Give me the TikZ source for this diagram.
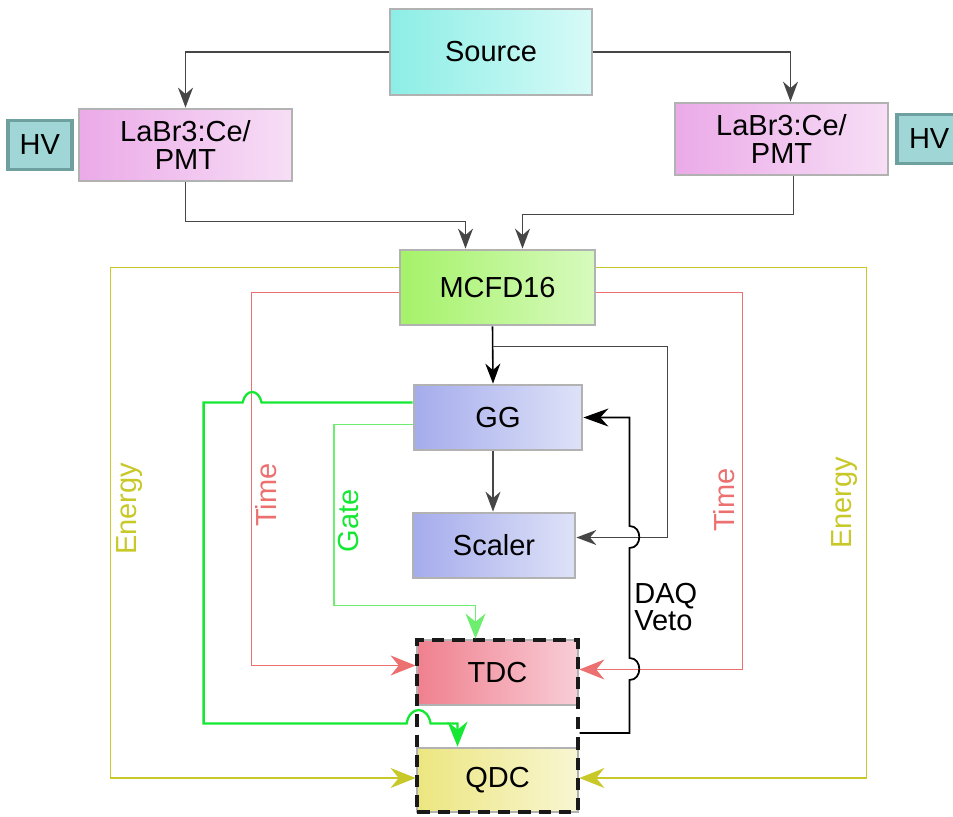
\documentclass[tikz,border=0pt]{standalone}
\usepackage{fontspec}
\setmainfont{Liberation Sans}
\usetikzlibrary{arrows.meta,positioning,calc,fit}
\definecolor{SrcL}{RGB}{140,238,230}
\definecolor{SrcR}{RGB}{215,250,247}
\definecolor{PmtL}{RGB}{235,170,232}
\definecolor{PmtR}{RGB}{247,222,246}
\definecolor{HvFill}{RGB}{160,214,214}
\definecolor{HvLine}{RGB}{110,160,160}
\definecolor{McfdL}{RGB}{165,242,105}
\definecolor{McfdR}{RGB}{215,250,190}
\definecolor{LogicL}{RGB}{165,172,236}
\definecolor{LogicR}{RGB}{222,226,248}
\definecolor{TdcL}{RGB}{240,128,142}
\definecolor{TdcR}{RGB}{248,205,215}
\definecolor{QdcL}{RGB}{236,230,128}
\definecolor{QdcR}{RGB}{248,246,210}
\definecolor{SigGray}{RGB}{70,70,70}
\definecolor{EnergyCol}{RGB}{200,200,40}
\definecolor{TimeCol}{RGB}{236,112,112}
\definecolor{GateCol}{RGB}{20,232,50}
\definecolor{GateLight}{RGB}{110,238,110}
\tikzset{
  unitbox/.style={draw=black!30,line width=1.6pt,minimum width=3.3cm,
    minimum height=1.3cm,align=center,inner sep=1pt,
    font=\fontsize{16.5}{15.5}\selectfont},
  hvbox/.style={draw=HvLine,fill=HvFill,line width=2pt,minimum width=1.28cm,
    minimum height=0.98cm,inner sep=1pt,font=\fontsize{16.5}{15.5}\selectfont},
  readout/.style={draw=black!90,line width=2.2pt,dash pattern=on 7pt off 4.5pt,
    inner sep=-1pt},
  sigarrow/.style={-{Stealth[length=4mm,width=3mm]},line width=0.9pt,draw=SigGray},
  energyarrow/.style={-{Stealth[length=5mm,width=4mm]},line width=0.9pt,draw=EnergyCol},
  timearrow/.style={-{Stealth[length=5mm,width=4mm]},line width=0.9pt,draw=TimeCol},
  gatearrow/.style={-{Stealth[length=5mm,width=4mm]},line width=1.3pt,draw=GateCol},
  gatelight/.style={-{Stealth[length=5mm,width=4mm]},line width=1.1pt,draw=GateLight},
  vetoarrow/.style={-{Stealth[length=5mm,width=3.6mm]},line width=1pt,draw=black},
  sidelabel/.style={rotate=90,inner sep=0pt,font=\fontsize{16.5}{15.5}\selectfont},
}
\begin{document}
\begin{tikzpicture}[x=0.02cm,y=-0.02cm]
  \useasboundingbox (0,0) rectangle (953,816);
  \node[unitbox,left color=SrcL,right color=SrcR,minimum width=4.04cm,
        minimum height=1.72cm] (src) at (491,52) {Source};
  \node[unitbox,left color=PmtL,right color=PmtR,minimum width=4.26cm,
        minimum height=1.44cm] (pmtl) at (185.5,145) {LaBr3:Ce/\\PMT};
  \node[unitbox,left color=PmtL,right color=PmtR,minimum width=4.26cm,
        minimum height=1.44cm] (pmtr) at (781.5,139) {LaBr3:Ce/\\PMT};
  \node[hvbox,left=0.08cm of pmtl] (hvl) {HV};
  \node[hvbox,right=0.12cm of pmtr] (hvr) {HV};
  \node[unitbox,left color=McfdL,right color=McfdR,minimum width=3.9cm,
        minimum height=1.5cm] (mcfd) at (497.5,287.5) {MCFD16};
  \node[unitbox,left color=LogicL,right color=LogicR,minimum width=3.36cm]
    (gg) at (498,417.5) {GG};
  \node[unitbox,left color=LogicL,right color=LogicR,minimum width=3.24cm]
    (scaler) at (494,545.5) {Scaler};
  \node[unitbox,left color=TdcL,right color=TdcR,minimum width=3.22cm]
    (tdc) at (497.5,672.5) {TDC};
  \node[unitbox,left color=QdcL,right color=QdcR,minimum width=3.22cm,
        minimum height=1.28cm] (qdc) at (497.5,780) {QDC};
  \node[readout,fit=(tdc)(qdc)] (daq) {};
  \node[sidelabel,text=EnergyCol] (enl) at (130,509) {Energy};
  \node[sidelabel,text=EnergyCol] (enr) at (845,503) {Energy};
  \node[sidelabel,text=TimeCol] (tml) at (266,495) {Time};
  \node[sidelabel,text=TimeCol] (tmr) at (724,500) {Time};
  \node[sidelabel,text=GateCol] (gtl) at (349,521) {Gate};
  \node[align=left,anchor=north west,inner sep=0pt,
        font=\fontsize{16.5}{15.5}\selectfont] (veto) at (634,583) {DAQ\\Veto};
  \coordinate (split) at ($(mcfd.south)+(-5,20)$);
  \draw[sigarrow] (src.west) -| (pmtl.north);
  \draw[sigarrow] (src.east) -| ($(pmtr.north)+(9,0)$);
  \draw[sigarrow] (pmtl.south) -- ++(0,39) -| ($(mcfd.north)+(-32,0)$);
  \draw[sigarrow] ($(pmtr.south)+(12,0)$) -- ++(0,38) -| ($(mcfd.north)+(25,0)$);
  \draw[sigarrow,draw=black] ($(mcfd.south)+(-5,0)$) -- ($(gg.north)+(-5,0)$);
  \draw[sigarrow] (split) -- ++(175,0) |- ($(scaler.east)+(0,-8)$);
  \draw[sigarrow] ($(gg.south)+(-5,0)$) -- ($(scaler.north)+(-1,0)$);
  \draw[energyarrow] ($(mcfd.west)+(0,-20)$) -- ++(-288,0) |- ($(qdc.west)+(0,-2)$);
  \draw[energyarrow] ($(mcfd.east)+(0,-20)$) -- ++(270,0) |- ($(qdc.east)+(0,-2)$);
  \draw[timearrow] ($(mcfd.west)+(0,5)$) -- ++(-147,0) |- ($(tdc.west)+(0,-7)$);
  \draw[timearrow] ($(mcfd.east)+(0,5)$) -- ++(146,0) |- ($(tdc.east)+(0,-3)$);
  \draw[gatelight] ($(gg.west)+(0,7)$) -- ++(-79,0) -- ++(0,181)
    -| ($(tdc.north)+(-22,0)$);
  \draw[gatearrow] ($(gg.west)+(0,-15)$) -- ++(-151,0)
    .. controls +(-3,-14) and +(3,-14) .. ++(-19,0) -- ++(-39,0) -- ++(0,321)
    -- ++(203,0) .. controls +(3,-18) and +(-3,-18) .. ++(24,0)
    -| ($(qdc.north)+(-40,0)$);
  \draw[vetoarrow] ($(daq.east)+(0,7)$) -- ++(50,0) -- ++(0,-53)
    .. controls +(13,0) and +(13,0) .. ++(0,-22) -- ++(0,-110)
    .. controls +(13,0) and +(13,0) .. ++(0,-22) |- (gg.east);
\end{tikzpicture}
\end{document}
